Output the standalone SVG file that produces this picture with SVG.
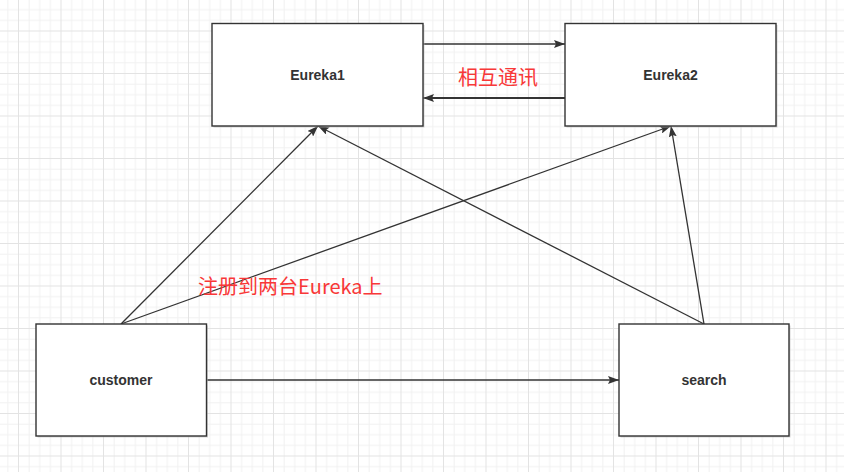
<svg xmlns="http://www.w3.org/2000/svg" width="844" height="472" viewBox="0 0 844 472">
<defs>
<pattern id="grid" patternUnits="userSpaceOnUse" x="18" y="30.5" width="42.5" height="42.5">
<path d="M11.1 0V42.5M21.75 0V42.5M32.4 0V42.5M0 11.1H42.5M0 21.75H42.5M0 32.4H42.5" stroke="#f1f1f1" stroke-width="1" fill="none"/>
<path d="M0.5 0V42.5M0 0.5H42.5" stroke="#e3e3e3" stroke-width="1" fill="none"/>
</pattern>
<marker id="arr" viewBox="0 0 11 8" refX="11" refY="4" markerWidth="11" markerHeight="8" markerUnits="userSpaceOnUse" orient="auto">
<path d="M0 0L11 4L0 8L2 4Z" fill="#333"/>
</marker>
<style>
.box{fill:#fff;stroke:#333;stroke-width:1.4}
.shadow{fill:#bbb;opacity:.6}
.lbl{font-family:"Liberation Sans","Noto Sans",sans-serif;font-weight:bold;font-size:14px;fill:#333;text-anchor:middle}
.red{font-family:"Noto Sans CJK SC","Noto Sans",sans-serif;font-size:20px;fill:#f83838}
.c{fill:none;stroke:#333;stroke-width:1.3;marker-end:url(#arr)}
</style>
</defs>
<rect width="844" height="472" fill="#fff"/>
<rect width="844" height="472" fill="url(#grid)"/>
<g id="connectors">
<line class="c" x1="423" y1="44" x2="565" y2="44"/>
<line class="c" x1="565" y1="98" x2="423" y2="98" style="stroke-width:1.8"/>
<line class="c" x1="121" y1="324" x2="318" y2="126"/>
<line class="c" x1="121" y1="324" x2="671" y2="126"/>
<line class="c" x1="704" y1="324" x2="318" y2="126"/>
<line class="c" x1="704" y1="324" x2="671" y2="126"/>
<line class="c" x1="207" y1="380" x2="619" y2="380"/>
</g>
<g id="eureka1">
<rect class="shadow" x="213.5" y="25" width="211" height="102.5"/>
<rect class="box" x="212" y="23.5" width="211" height="102.5"/>
<text class="lbl" x="317.5" y="80">Eureka1</text>
</g>
<g id="eureka2">
<rect class="shadow" x="566.5" y="25" width="211" height="102.5"/>
<rect class="box" x="565" y="23.5" width="211" height="102.5"/>
<text class="lbl" x="670.5" y="80">Eureka2</text>
</g>
<g id="customer">
<rect class="shadow" x="37.5" y="325.5" width="170.5" height="112"/>
<rect class="box" x="36" y="324" width="170.5" height="112"/>
<text class="lbl" x="121" y="385">customer</text>
</g>
<g id="search">
<rect class="shadow" x="620.5" y="325.5" width="170" height="112"/>
<rect class="box" x="619" y="324" width="170" height="112"/>
<text class="lbl" x="704" y="385">search</text>
</g>
<text class="red" x="458" y="85">相互通讯</text>
<text class="red" x="198" y="294">注册到两台Eureka上</text>
</svg>
